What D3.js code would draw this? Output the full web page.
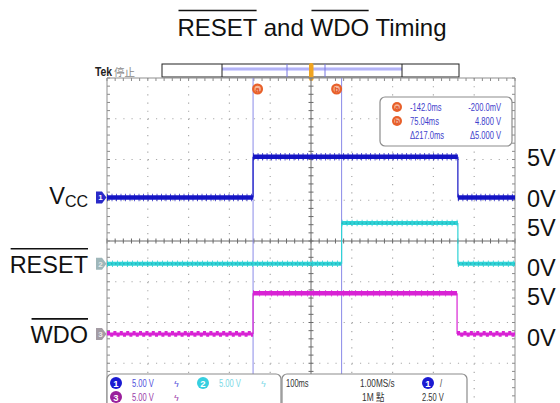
<!DOCTYPE html>
<html><head><meta charset="utf-8">
<script src="https://cdn.jsdelivr.net/npm/d3@7"></script>
<style>body{margin:0;background:#fff}svg{display:block}</style>
</head><body>
<svg id="c" width="560" height="403"></svg>
<script>
// ---------- data ----------
const timeRange = [-500, 500];          // ms (100 ms/div)
const divRange = [-4, 4];                // vertical divisions
const voltsPerDiv = 5;
const channelNames = ["VCC", "RESET", "WDO"];
const channelOffsetsDiv = [1.07, -0.56, -2.28];
const ch1Edges = [-500, -142, 360, 500];
const ch1Levels = [0, 5, 0];
const ch2Edges = [-500, 75.04, 360, 500];
const ch2Levels = [0, 5, 0];
const ch3Edges = [-500, -142, 358, 500];
const ch3Levels = [0, 5, 0];
const levelLabels = ["5V", "0V"];
const levelValues = [5, 0];
const cursorTimes = [-142.0, 75.04];
const cursorNames = ["a", "b"];
const readoutTime = ["-142.0ms", "75.04ms", "\u0394217.0ms"];
const readoutVolt = ["-200.0mV", "4.800 V", "\u03945.000 V"];
const scaleLabels = ["5.00 V", "5.00 V", "5.00 V"];
const timebaseLabel = "100ms", sampleRateLabel = "1.00MS/s", recordLabel = "1M 點", trigLevelLabel = "2.50 V";
const titleParts = ["RESET", " and ", "WDO", " Timing"];

// ---------- style ----------
const traceColors = ["#1414c4", "#2fd3d6", "#d823d4"];
const markerColors = ["#2a2ac8", "#9fb7ba", "#a49ca4"];
const badgeColors = ["#1a1ad2", "#36cfe0", "#9a1f9c"];
const scaleTextColors = ["#5050dc", "#78d8e6", "#9a3aa8"];
const leftLabelShift = [6.5, 9, 9];
const rightLabelShift = [9.5, 12.5, 12];
const cursorLabelDx = [4.5, -5];
const SANS = "'Liberation Sans', Arial, Helvetica, sans-serif";
const SQUEEZE = 0.72;

const L = 107, R = 515, T = 78, B = 404;
const svg = d3.select("#c");
const x = d3.scaleLinear().domain(timeRange).range([L, R]);
const yDiv = d3.scaleLinear().domain(divRange).range([B, T]);
const chY = (ch, v) => yDiv(channelOffsetsDiv[ch] + v / voltsPerDiv);

// condensed text helper (scope UI font is narrow)
function narrowText(g, tx, ty, str, opts = {}) {
  return g.append("text")
    .attr("transform", `translate(${tx},${ty}) scale(${opts.sx || SQUEEZE},1)`)
    .attr("text-anchor", opts.anchor || "start")
    .attr("font-family", opts.family || SANS)
    .attr("font-size", opts.size || 10.5)
    .attr("font-weight", opts.weight || "normal")
    .attr("fill", opts.fill || "#333").text(str);
}

// ---------- title ----------
const title = svg.append("text").attr("x", 312).attr("y", 36)
  .attr("text-anchor", "middle").attr("font-family", SANS).attr("font-size", 24).attr("fill", "#111");
titleParts.forEach(p => title.append("tspan").text(p));
function overlineSub(textSel, start, n, y) {
  const node = textSel.node();
  const x0 = node.getStartPositionOfChar(start).x;
  const x1 = node.getEndPositionOfChar(start + n - 1).x;
  svg.append("line").attr("x1", x0 + 1).attr("x2", x1 - 0.5).attr("y1", y).attr("y2", y)
    .attr("stroke", "#111").attr("stroke-width", 1.6);
}
overlineSub(title, 0, titleParts[0].length, 10.5);
overlineSub(title, titleParts[0].length + titleParts[1].length, titleParts[2].length, 10.5);

// ---------- top header ----------
narrowText(svg, 95, 76, "Tek", { size: 13, weight: "bold", fill: "#222", sx: 0.8 });
svg.append("text").attr("x", 114).attr("y", 76).attr("font-family", "'Noto Sans CJK TC', sans-serif")
  .attr("font-size", 10.5).attr("fill", "#8a8a8a").text("停止");
const bar = svg.append("g");
bar.append("rect").attr("x", 162).attr("y", 64).attr("width", 297).attr("height", 13)
  .attr("fill", "#fff").attr("stroke", "#222").attr("stroke-width", 1);
bar.append("rect").attr("x", 222).attr("y", 67).attr("width", 180).attr("height", 4).attr("fill", "#d6d6ff");
bar.append("line").attr("x1", 222).attr("x2", 402).attr("y1", 69).attr("y2", 69).attr("stroke", "#8f8fee").attr("stroke-width", 1.2);
[222, 402].forEach(v => bar.append("line").attr("x1", v).attr("x2", v).attr("y1", 64).attr("y2", 77).attr("stroke", "#222"));
[287, 325].forEach(v => bar.append("line").attr("x1", v).attr("x2", v).attr("y1", 64).attr("y2", 77).attr("stroke", "#7777e0"));
bar.append("rect").attr("x", 309).attr("y", 63).attr("width", 4.5).attr("height", 18).attr("rx", 2)
  .attr("fill", "#f0a421");

// ---------- graticule ----------
const grid = svg.append("g");
const majorT = d3.range(timeRange[0] + 100, timeRange[1], 100);
const majorD = d3.range(divRange[0] + 1, divRange[1], 1);
const minorStep = (R - L) / 50;
majorT.filter(t => t !== 0).forEach(t => grid.append("line")
  .attr("x1", x(t)).attr("x2", x(t)).attr("y1", T).attr("y2", B)
  .attr("stroke", "#a9a9a9").attr("stroke-width", 1.2).attr("stroke-dasharray", `1.2 ${minorStep - 1.2}`));
majorD.filter(d => d !== 0).forEach(d => grid.append("line")
  .attr("x1", L).attr("x2", R).attr("y1", yDiv(d)).attr("y2", yDiv(d))
  .attr("stroke", "#a9a9a9").attr("stroke-width", 1.2).attr("stroke-dasharray", `1.2 ${minorStep - 1.2}`));
grid.append("line").attr("x1", L).attr("x2", R).attr("y1", yDiv(0)).attr("y2", yDiv(0)).attr("stroke", "#6a6a6a");
grid.append("line").attr("x1", x(0)).attr("x2", x(0)).attr("y1", T).attr("y2", B).attr("stroke", "#6a6a6a");
const minorT = d3.range(timeRange[0], timeRange[1] + 0.01, 20);
const minorD = d3.range(divRange[0], divRange[1] + 0.01, 0.2);
minorT.forEach(t => {
  grid.append("line").attr("x1", x(t)).attr("x2", x(t)).attr("y1", yDiv(0) - 2.5).attr("y2", yDiv(0) + 2.5).attr("stroke", "#6a6a6a");
  grid.append("line").attr("x1", x(t)).attr("x2", x(t)).attr("y1", T).attr("y2", T + 3).attr("stroke", "#8a8a8a");
});
minorD.forEach(d => {
  grid.append("line").attr("x1", x(0) - 2.5).attr("x2", x(0) + 2.5).attr("y1", yDiv(d)).attr("y2", yDiv(d)).attr("stroke", "#6a6a6a");
  grid.append("line").attr("x1", L).attr("x2", L + 3).attr("y1", yDiv(d)).attr("y2", yDiv(d)).attr("stroke", "#8a8a8a");
  grid.append("line").attr("x1", R - 3).attr("x2", R).attr("y1", yDiv(d)).attr("y2", yDiv(d)).attr("stroke", "#8a8a8a");
});
grid.append("path").attr("d", `M${L},${B}V${T}H${R}V${B}`).attr("fill", "none").attr("stroke", "#8f8f8f");

// ---------- cursors ----------
cursorTimes.forEach((t, i) => {
  svg.append("line").attr("x1", x(t)).attr("x2", x(t)).attr("y1", T).attr("y2", B)
    .attr("stroke", "#8a8ae8").attr("stroke-width", 1);
  const cx = x(t) + cursorLabelDx[i];
  svg.append("circle").attr("cx", cx).attr("cy", 89).attr("r", 5.5).attr("fill", "#e8602a");
  svg.append("circle").attr("cx", cx).attr("cy", 89).attr("r", 3.2).attr("fill", "#f6b79a");
  svg.append("text").attr("x", cx).attr("y", 92).attr("text-anchor", "middle").attr("font-family", SANS)
    .attr("font-size", 8).attr("font-weight", "bold").attr("fill", "#e0501e").text(cursorNames[i]);
});

// ---------- traces ----------
const edgesList = [ch1Edges, ch2Edges, ch3Edges];
const levelsList = [ch1Levels, ch2Levels, ch3Levels];
edgesList.forEach((edges, ch) => {
  const g = svg.append("g");
  const levels = levelsList[ch];
  const col = traceColors[ch];
  for (let i = 1; i < levels.length; i++) {
    g.append("line").attr("x1", x(edges[i])).attr("x2", x(edges[i]))
      .attr("y1", chY(ch, levels[i - 1])).attr("y2", chY(ch, levels[i]))
      .attr("stroke", col).attr("stroke-width", 1.2);
  }
  levels.forEach((v, i) => {
    const x0 = x(edges[i]), x1 = x(edges[i + 1]), y = chY(ch, v);
    const hline = () => g.append("line").attr("x1", x0).attr("x2", x1).attr("y1", y).attr("y2", y).attr("stroke", col);
    if (ch === 0) {
      hline().attr("stroke-width", 4.5);
      hline().attr("stroke-width", 7.5).attr("stroke-dasharray", "1 3.5").attr("opacity", 0.7);
    } else if (ch === 1) {
      hline().attr("stroke-width", 4);
      hline().attr("stroke-width", 6.5).attr("stroke-dasharray", "1 4").attr("opacity", 0.8);
      hline().attr("stroke", "#1f8f9e").attr("stroke-width", 1.3).attr("stroke-dasharray", "1.5 2.5").attr("opacity", 0.55);
    } else if (v === 0) {
      hline().attr("stroke-width", 3);
      g.append("line").attr("x1", x0).attr("x2", x1).attr("y1", y - 1.3).attr("y2", y - 1.3)
        .attr("stroke", col).attr("stroke-width", 3.2).attr("stroke-dasharray", "3 3.4");
      g.append("line").attr("x1", x0 + 3.2).attr("x2", x1).attr("y1", y + 1.3).attr("y2", y + 1.3)
        .attr("stroke", col).attr("stroke-width", 3.2).attr("stroke-dasharray", "3 3.4");
    } else {
      hline().attr("stroke-width", 4.5);
      hline().attr("stroke-width", 6.5).attr("stroke-dasharray", "1 5").attr("opacity", 0.7);
    }
  });
  const cy = chY(ch, 0);
  svg.append("path").attr("d", `M96,${cy - 6}H102L106.5,${cy}L102,${cy + 6}H96Z`)
    .attr("fill", markerColors[ch]);
  svg.append("text").attr("x", 100.5).attr("y", cy + 3).attr("text-anchor", "middle").attr("font-family", SANS)
    .attr("font-size", 8).attr("font-weight", "bold").attr("fill", ch === 0 ? "#fff" : "#e8e8e8").text(ch + 1);
});

// ---------- left channel labels ----------
channelNames.forEach((name, ch) => {
  const y = chY(ch, 0) + leftLabelShift[ch];
  const t = svg.append("text").attr("x", 88).attr("y", y).attr("text-anchor", "end")
    .attr("font-family", SANS).attr("font-size", 23.5).attr("fill", "#111");
  if (name === "VCC") {
    t.append("tspan").text("V");
    t.append("tspan").attr("font-size", 16).attr("dy", 3).text("CC");
  } else {
    t.text(name);
    const bb = t.node().getBBox();
    svg.append("line").attr("x1", bb.x + 1).attr("x2", bb.x + bb.width).attr("y1", y - 24).attr("y2", y - 24)
      .attr("stroke", "#111").attr("stroke-width", 1.6);
  }
});

// ---------- right level labels ----------
channelNames.forEach((name, ch) => {
  levelValues.forEach((v, j) => {
    svg.append("text").attr("x", 527).attr("y", chY(ch, v) + rightLabelShift[ch])
      .attr("font-family", SANS).attr("font-size", 23.5).attr("fill", "#111").text(levelLabels[j]);
  });
});

// ---------- cursor readout ----------
const ro = svg.append("g");
ro.append("rect").attr("x", 380).attr("y", 97).attr("width", 132).attr("height", 49).attr("rx", 5)
  .attr("fill", "#fff").attr("stroke", "#8c8c8c").attr("stroke-width", 1.2);
const rowY = [107, 121, 135];
readoutTime.forEach((s, i) => {
  if (i < 2) {
    ro.append("circle").attr("cx", 397).attr("cy", rowY[i]).attr("r", 5).attr("fill", "#e8602a");
    ro.append("circle").attr("cx", 397).attr("cy", rowY[i]).attr("r", 2.8).attr("fill", "#f6b79a");
    ro.append("text").attr("x", 397).attr("y", rowY[i] + 2.8).attr("text-anchor", "middle").attr("font-family", SANS)
      .attr("font-size", 7.5).attr("font-weight", "bold").attr("fill", "#e0501e").text(cursorNames[i]);
  }
  narrowText(ro, 410, rowY[i] + 3.8, s, { fill: "#4040cc" });
  narrowText(ro, 501, rowY[i] + 3.8, readoutVolt[i], { fill: "#4040cc", anchor: "end" });
});

// ---------- bottom status boxes ----------
const sb = svg.append("g");
sb.append("rect").attr("x", 107).attr("y", 374).attr("width", 174).attr("height", 40).attr("rx", 5)
  .attr("fill", "#fff").attr("stroke", "#8c8c8c").attr("stroke-width", 1.2);
sb.append("rect").attr("x", 282).attr("y", 374).attr("width", 185).attr("height", 40).attr("rx", 5)
  .attr("fill", "#fff").attr("stroke", "#8c8c8c").attr("stroke-width", 1.2);
const badgePos = [[116, 383], [203, 383], [116, 397]];
scaleLabels.forEach((s, ch) => {
  const [bx, by] = badgePos[ch];
  sb.append("circle").attr("cx", bx).attr("cy", by).attr("r", 6).attr("fill", badgeColors[ch]);
  sb.append("text").attr("x", bx).attr("y", by + 3.5).attr("text-anchor", "middle").attr("font-family", SANS)
    .attr("font-size", 9.5).attr("font-weight", "bold").attr("fill", "#fff").text(ch + 1);
  narrowText(sb, bx + 16, by + 3.8, s, { fill: scaleTextColors[ch] });
  sb.append("text").attr("x", bx + 58).attr("y", by + 3.5).attr("font-family", SANS)
    .attr("font-size", 9).attr("fill", scaleTextColors[ch]).text("\u03df");
});
const dark = "#333";
narrowText(sb, 286, 386.8, timebaseLabel, { fill: dark });
narrowText(sb, 360, 386.8, sampleRateLabel, { fill: dark, sx: 0.78 });
narrowText(sb, 362, 400.8, recordLabel, { fill: dark, sx: 0.8, family: SANS + ", 'Noto Sans CJK TC'" });
sb.append("circle").attr("cx", 428).attr("cy", 383).attr("r", 6).attr("fill", badgeColors[0]);
sb.append("text").attr("x", 428).attr("y", 386.5).attr("text-anchor", "middle").attr("font-family", SANS)
  .attr("font-size", 9.5).attr("font-weight", "bold").attr("fill", "#fff").text("1");
narrowText(sb, 440, 386.8, "/", { fill: dark });
narrowText(sb, 422, 400.8, trigLevelLabel, { fill: dark });
</script>
</body></html>
